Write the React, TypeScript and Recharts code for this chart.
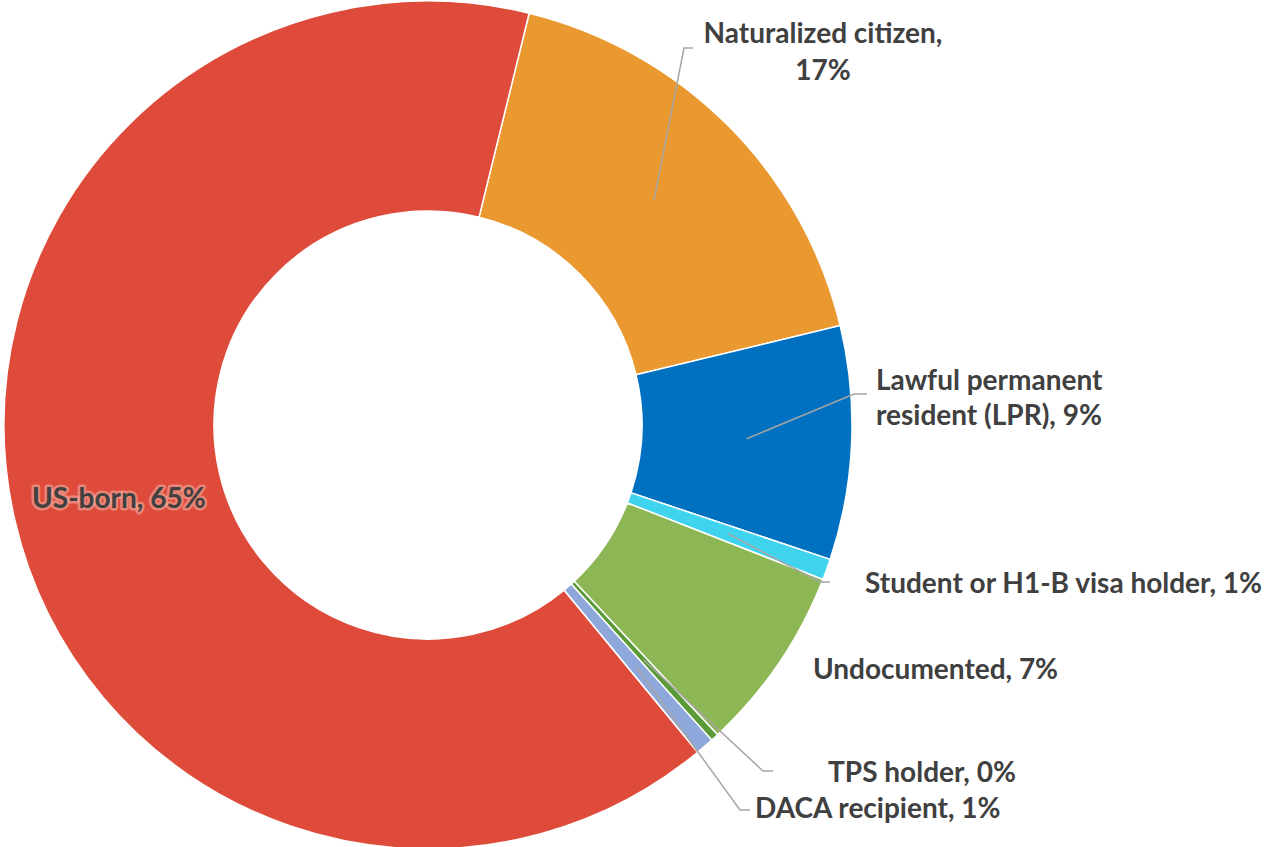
import { PieChart, Pie, Cell } from "recharts";

// slices in clockwise order, starting just right of 12 o'clock
const categories = [
  "Naturalized citizen",
  "Lawful permanent resident (LPR)",
  "Student or H1-B visa holder",
  "Undocumented",
  "TPS holder",
  "DACA recipient",
  "US-born",
];
const shares = [17.4, 8.9, 0.8, 7.1, 0.3, 0.7, 64.8];
const colors = ["#E9992F", "#0070C0", "#3FD3EE", "#8DB654", "#5A9B37", "#8FA8DC", "#DE4B3A"];

const data = categories.map((name, i) => ({ name, value: shares[i] }));

const RAD = Math.PI / 180;
const TEXT = "#404040";
const LEADER = "#A6A6A6";
const FONT = "Lato, 'Open Sans', sans-serif";

type Place = {
  lines: (pct: string) => string[];
  x: number;
  y: number[];
  anchor: "start" | "middle";
  elbow?: [number, number];
  end?: [number, number];
  halo?: boolean;
};

// hand placed, like the original Excel labels
const placement: Record<string, Place> = {
  "Naturalized citizen": {
    lines: (p) => ["Naturalized citizen,", p],
    x: 823, y: [43, 80], anchor: "middle", elbow: [684, 48], end: [693, 48],
  },
  "Lawful permanent resident (LPR)": {
    lines: (p) => ["Lawful permanent", `resident (LPR), ${p}`],
    x: 876, y: [390, 425], anchor: "start", elbow: [854, 394], end: [867, 394],
  },
  "Student or H1-B visa holder": {
    lines: (p) => [`Student or H1-B visa holder, ${p}`],
    x: 865, y: [593], anchor: "start", elbow: [820, 582], end: [830, 582],
  },
  Undocumented: {
    lines: (p) => [`Undocumented, ${p}`],
    x: 813, y: [679], anchor: "start",
  },
  "TPS holder": {
    lines: (p) => [`TPS holder, ${p}`],
    x: 828, y: [782], anchor: "start", elbow: [763, 771], end: [773, 771],
  },
  "DACA recipient": {
    lines: (p) => [`DACA recipient, ${p}`],
    x: 755, y: [818], anchor: "start", elbow: [740, 810], end: [750, 810],
  },
  "US-born": {
    lines: (p) => [`US-born, ${p}`],
    x: 32, y: [508], anchor: "start", halo: true,
  },
};

function SliceLabel(props: any) {
  const { cx, cy, midAngle, innerRadius, outerRadius, name, value } = props;
  const place = placement[name];
  if (!place) return null;
  const pct = `${Math.round(value)}%`;
  const r = (innerRadius + outerRadius) / 2;
  const ax = cx + r * Math.cos(-midAngle * RAD);
  const ay = cy + r * Math.sin(-midAngle * RAD);
  return (
    <g>
      {place.elbow && place.end && (
        <polyline
          points={`${ax},${ay} ${place.elbow[0]},${place.elbow[1]} ${place.end[0]},${place.end[1]}`}
          fill="none"
          stroke={LEADER}
          strokeWidth={1.5}
        />
      )}
      {place.lines(pct).map((line, i) => (
        <text
          key={i}
          x={place.x}
          y={place.y[i]}
          textAnchor={place.anchor}
          fill={TEXT}
          fontFamily={FONT}
          fontWeight={700}
          fontSize={28}
          stroke={place.halo ? "#F3B8AC" : "none"}
          strokeWidth={place.halo ? 5 : 0}
          strokeOpacity={0.55}
          strokeLinejoin="round"
          style={{ paintOrder: "stroke" }}
        >
          {line}
        </text>
      ))}
    </g>
  );
}

export default function App() {
  return (
    <div style={{ position: "absolute", left: 0, top: 0, width: 1268, height: 847, background: "#fff" }}>
      <PieChart width={1268} height={847} margin={{ top: 0, right: 0, bottom: 0, left: 0 }}>
        <Pie
          data={data}
          dataKey="value"
          nameKey="name"
          cx={428}
          cy={425}
          innerRadius={214}
          outerRadius={424}
          startAngle={76.2}
          endAngle={-283.8}
          stroke="#fff"
          strokeWidth={1.5}
          label={SliceLabel}
          labelLine={false}
          isAnimationActive={false}
        >
          {data.map((d, i) => (
            <Cell key={d.name} fill={colors[i]} />
          ))}
        </Pie>
      </PieChart>
    </div>
  );
}
